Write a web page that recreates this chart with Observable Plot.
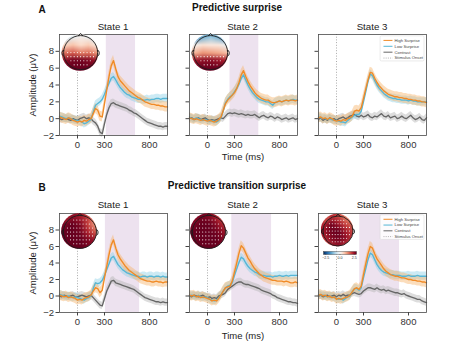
<!DOCTYPE html>
<html><head><meta charset="utf-8">
<script src="https://cdn.jsdelivr.net/npm/d3@7"></script>
<script src="https://cdn.jsdelivr.net/npm/@observablehq/plot@0.6"></script>
<style>
body{margin:0;background:#fff;font-family:"Liberation Sans",Arial,sans-serif;}
#fig{position:relative;width:474px;height:355px;overflow:hidden;background:#fff;}
.t{position:absolute;white-space:nowrap;color:#222;line-height:1;transform:translate(-50%,-50%);}
.w{position:absolute;}
</style></head><body><div id="fig"></div>
<script>
// ---------- data ----------
const time = [-200,-175,-150,-125,-100,-75,-50,-25,0,25,50,75,100,125,150,175,200,225,250,275,300,325,350,375,400,425,450,475,500,525,550,575,600,625,650,675,700,725,750,775,800,825,850,875,900,925,950,975,1000];
const rowTitles = ["Predictive surprise", "Predictive transition surprise"];
const rowLetters = ["A", "B"];
const states = ["State 1", "State 2", "State 3"];
const legendLabels = ["High Surprise", "Low Surprise", "Contrast", "Stimulus Onset"];
const xTicks = [0, 300, 800];
const yTicks = [-2, 0, 2, 4, 6, 8];
const xLabel = "Time (ms)";
const yLabel = "Amplitude (μV)";

const a1High = [0.2,0.1,0.0,-0.1,0.1,0.0,-0.2,-0.3,-0.4,-0.3,-0.4,-0.2,-0.3,-0.1,0.0,0.6,1.2,1.0,0.3,0.2,1.8,3.4,5.0,6.3,6.9,5.9,5.0,4.5,4.2,3.9,3.6,3.3,3.1,2.9,2.7,2.5,2.4,2.2,2.0,1.9,1.8,1.7,1.7,1.6,1.6,1.5,1.5,1.4,1.4];
const a1Low  = [0.3,0.2,0.1,0.0,0.1,0.0,-0.1,-0.2,-0.2,-0.3,-0.4,-0.6,-0.5,-0.3,-0.1,0.8,1.6,1.8,2.0,2.3,2.9,3.6,4.2,4.8,5.0,4.6,4.1,3.7,3.4,3.1,2.9,2.8,2.6,2.5,2.4,2.3,2.3,2.2,2.2,2.3,2.2,2.3,2.3,2.4,2.4,2.3,2.4,2.4,2.4];
const a1Con  = [0.0,-0.1,0.0,0.0,-0.1,-0.2,0.0,-0.1,-0.2,0.0,0.1,0.2,0.0,0.1,0.0,-0.3,-0.5,-0.9,-1.6,-1.8,-0.6,0.5,1.3,1.8,1.9,1.7,1.6,1.5,1.4,1.3,1.2,1.0,0.9,0.7,0.6,0.4,0.2,0.0,-0.2,-0.4,-0.5,-0.6,-0.7,-0.8,-0.9,-0.9,-1.0,-0.9,-0.9];
const a2High = [0.1,0.0,-0.1,0.0,-0.1,-0.2,-0.1,-0.2,-0.3,-0.2,-0.3,-0.4,-0.3,-0.1,0.2,1.0,1.8,2.2,2.5,2.8,3.1,3.6,4.3,5.2,5.7,5.0,4.4,3.9,3.5,3.1,2.8,2.6,2.4,2.3,2.2,2.2,2.0,1.9,1.9,2.0,2.1,2.0,2.1,2.2,2.1,2.2,2.2,2.1,2.2];
const a2Low  = [0.2,0.0,-0.1,0.1,0.0,-0.1,-0.2,-0.1,-0.2,-0.3,-0.2,-0.3,-0.4,-0.2,0.1,0.9,1.9,2.3,2.6,2.8,3.2,3.6,4.1,4.8,5.2,4.6,4.0,3.5,3.1,2.8,2.5,2.3,2.2,2.1,2.0,2.0,1.8,1.6,1.9,2.0,2.1,2.0,2.1,2.2,2.1,2.2,2.3,2.2,2.2];
const a2Con  = [0.0,0.1,-0.1,0.0,0.1,-0.1,0.0,0.1,-0.1,-0.2,-0.1,-0.2,-0.1,0.0,0.1,0.0,0.3,0.6,0.7,0.6,0.7,0.6,0.5,0.6,0.5,0.4,0.5,0.4,0.4,0.5,0.3,0.1,0.3,0.4,0.2,0.1,0.3,0.2,0.0,0.2,0.1,-0.1,0.0,0.1,-0.1,0.0,0.1,-0.1,0.0];
const a3High = [0.1,0.2,0.0,0.1,-0.1,0.1,0.0,-0.2,-0.3,-0.2,-0.3,-0.1,-0.2,0.0,0.1,0.3,0.9,1.0,0.9,1.3,2.4,3.5,4.6,5.5,5.4,4.8,4.3,3.9,3.6,3.3,3.1,2.9,2.8,2.7,2.6,2.6,2.5,2.5,2.4,2.4,2.3,2.3,2.2,2.2,2.1,2.1,2.0,2.0,1.9];
const a3Low  = [0.2,0.1,0.0,0.0,-0.1,0.0,-0.1,-0.2,-0.2,-0.3,-0.4,-0.4,-0.5,-0.2,0.0,0.2,0.4,0.5,0.5,0.9,2.0,3.2,4.4,5.3,5.1,4.5,4.0,3.6,3.3,3.0,2.8,2.6,2.5,2.4,2.4,2.3,2.3,2.2,2.2,2.2,2.1,2.2,2.1,2.1,2.0,2.0,2.0,2.0,2.0];
const a3Con  = [-0.1,0.1,-0.2,0.0,-0.2,0.1,-0.1,0.0,-0.2,0.0,0.1,0.2,0.0,0.1,0.3,0.4,0.5,0.3,0.2,0.4,0.2,0.3,0.5,0.2,0.1,0.3,0.2,0.4,0.6,0.3,0.2,0.4,0.1,0.2,0.3,0.0,0.1,0.3,0.1,0.0,0.2,0.4,0.1,-0.1,0.0,0.2,-0.1,-0.2,0.1];
const b1High = [0.1,0.0,-0.1,0.0,-0.2,-0.1,-0.2,-0.3,-0.5,-0.4,-0.5,-0.3,-0.2,-0.1,0.1,0.6,1.0,0.9,0.4,0.7,2.2,3.6,5.0,6.2,6.8,5.8,5.0,4.5,4.1,3.7,3.4,3.1,2.9,2.7,2.5,2.3,2.1,2.0,1.9,1.8,1.8,1.7,1.7,1.8,1.7,1.7,1.6,1.7,1.7];
const b1Low  = [0.2,0.1,0.0,-0.1,0.0,-0.1,-0.2,-0.1,-0.2,-0.3,-0.4,-0.5,-0.3,-0.2,0.0,0.9,1.6,1.5,1.6,1.9,2.5,3.2,3.9,4.6,4.8,4.3,3.8,3.5,3.2,3.0,2.8,2.7,2.6,2.5,2.4,2.4,2.3,2.4,2.4,2.3,2.4,2.4,2.3,2.4,2.4,2.3,2.4,2.3,2.3];
const b1Con  = [0.0,-0.1,0.1,0.0,-0.1,0.0,0.1,-0.1,-0.1,0.0,0.1,0.0,-0.1,0.0,0.1,-0.2,-0.5,-0.8,-1.1,-1.2,-0.3,0.6,1.2,1.8,1.9,1.6,1.5,1.4,1.3,1.2,1.1,1.0,0.9,0.8,0.6,0.4,0.2,0.0,-0.2,-0.3,-0.4,-0.5,-0.6,-0.7,-0.7,-0.8,-0.7,-0.8,-0.8];
const b2High = [0.1,0.0,0.1,-0.1,0.0,-0.2,-0.1,-0.2,-0.3,-0.4,-0.6,-0.5,-0.6,-0.3,0.1,0.6,1.0,1.1,1.2,1.8,2.9,4.0,5.2,6.1,5.8,5.2,4.6,4.2,3.7,3.3,3.0,2.7,2.5,2.3,2.2,2.1,2.0,1.9,1.9,1.8,1.8,1.8,1.7,1.8,1.7,1.6,1.6,1.7,1.6];
const b2Low  = [0.0,0.1,0.0,-0.1,0.1,-0.1,-0.2,-0.1,-0.2,-0.4,-0.5,-0.6,-0.5,-0.2,0.1,0.6,1.0,1.2,1.3,1.6,2.5,3.3,4.1,4.7,4.5,4.0,3.6,3.3,3.1,2.9,2.8,2.6,2.5,2.5,2.4,2.4,2.4,2.3,2.4,2.4,2.5,2.4,2.4,2.5,2.4,2.5,2.5,2.5,2.5];
const b2Con  = [0.0,-0.1,0.1,0.0,-0.1,0.0,0.1,-0.1,-0.2,-0.1,-0.3,-0.2,-0.3,0.0,0.1,0.2,0.4,0.8,1.0,1.2,1.4,1.6,1.7,1.7,1.5,1.4,1.4,1.3,1.2,1.1,1.0,0.9,0.7,0.6,0.5,0.4,0.3,0.1,0.0,-0.2,-0.3,-0.4,-0.5,-0.6,-0.7,-0.7,-0.8,-0.8,-0.9];
const b3High = [0.1,0.2,0.0,0.1,-0.1,0.0,-0.2,-0.1,-0.4,-0.3,-0.4,-0.3,-0.2,-0.1,0.1,0.5,0.9,1.0,0.8,1.2,2.6,3.9,5.1,6.0,5.8,5.1,4.5,4.1,3.7,3.3,3.0,2.8,2.6,2.5,2.4,2.4,2.3,2.2,2.2,2.1,2.0,2.0,1.9,1.9,1.8,1.8,1.7,1.7,1.6];
const b3Low  = [0.2,0.1,0.1,0.0,-0.1,0.0,-0.1,-0.2,-0.3,-0.4,-0.3,-0.5,-0.3,-0.1,0.0,0.5,0.9,0.9,0.7,1.0,2.2,3.3,4.4,5.2,5.0,4.4,3.8,3.4,3.1,2.9,2.8,2.7,2.6,2.6,2.5,2.5,2.5,2.4,2.4,2.4,2.5,2.4,2.4,2.4,2.5,2.4,2.4,2.4,2.4];
const b3Con  = [0.0,0.1,-0.1,0.0,0.1,-0.1,0.0,0.1,-0.1,0.1,0.0,0.2,0.0,0.1,0.1,0.3,0.4,0.3,0.2,0.3,0.6,0.8,1.0,1.0,0.9,0.8,1.0,0.8,0.7,0.8,0.6,0.7,0.6,0.5,0.4,0.4,0.3,0.2,0.3,0.1,0.0,-0.1,-0.2,-0.3,-0.4,-0.4,-0.6,-0.7,-0.8];

// confidence half-widths: high, low, contrast
const ciHalf = [0.6, 0.5, 0.45];
// significant windows (ms)
const shadeA = [[320, 645], [250, 570], null];
const shadeB = [[310, 690], [270, 712], [258, 700]];

// topographic maps (5x5, front row first)
const topoA1 = [-0.8,-0.2,0.1,-0.1,-0.6, 0.6,0.8,0.5,0.7,0.3, 1.6,1.8,1.5,1.6,1.3, 2.6,2.8,2.8,2.7,2.5, 2.9,2.9,2.9,2.9,2.9];
const topoA2 = [-2.0,-1.4,-1.1,-1.4,-2.0, 0.1,0.4,0.3,0.3,-0.2, 1.0,1.3,1.2,1.1,0.9, 2.4,2.6,2.6,2.5,2.3, 2.9,2.9,2.9,2.9,2.9];
const topoB1 = [2.3,2.6,2.4,2.0,1.4, 2.8,2.9,2.7,2.0,1.2, 2.9,2.9,2.8,2.3,1.8, 2.9,2.9,2.9,2.7,2.5, 2.8,2.9,2.9,2.8,2.6];
const topoB2 = [2.6,2.8,2.7,2.3,1.9, 2.8,2.9,2.9,2.6,2.2, 2.9,2.9,2.9,2.8,2.5, 2.9,2.9,2.9,2.9,2.7, 2.8,2.9,2.9,2.9,2.7];
const topoB3 = [1.6,2.2,2.0,1.5,1.2, 2.3,2.8,2.5,2.0,1.7, 2.5,2.8,2.9,2.4,2.0, 2.2,2.7,2.8,2.6,2.1, 1.8,2.3,2.6,2.2,1.7];
const colorLimit = 2.9;
const colorbarTicks = [-2.5, 0, 2.5];

// head drawing shapes
const nose = [[-0.13, 0.99], [0, 1.13], [0.13, 0.99]];
const earL = [[-0.99, 0.13], [-1.06, 0.11], [-1.1, 0.0], [-1.08, -0.14], [-1.0, -0.2]];
const earR = earL.map(([x, y]) => [-x, y]);
const electrodeRowsY = [0.72, 0.48, 0.24, 0, -0.24, -0.48, -0.72];

// ---------- styles ----------
const LINE = ["#f08a26", "#55b6d6", "#666666"];
const BAND = ["#f6b36a", "#8fd1e7", "#b3b3b3"];
const fig = document.getElementById("fig");
const FONT = '"Liberation Sans", Arial, sans-serif';

function addText(txt, x, y, css) {
  const d = document.createElement("div");
  d.className = "t";
  d.textContent = txt;
  d.style.left = x + "px"; d.style.top = y + "px";
  Object.assign(d.style, css || {});
  fig.appendChild(d);
}
function place(svg, left, top, w, clip) {
  const d = document.createElement("div");
  d.className = "w";
  d.style.left = left + "px"; d.style.top = top + "px"; d.style.width = w + "px";
  if (clip) d.style.clipPath = clip;
  d.appendChild(svg);
  fig.appendChild(d);
}

const panelX0 = [59, 188.5, 318];
const panelW = 108;
const rowTop = [34, 213];
const rowH = [101, 99];

function makePanel(r, c, series, shade) {
  const mL = 40, mR = 2, mT = 2, mB = 20;
  const rows = time.map((t, i) => ({t, v0: series[0][i], v1: series[1][i], v2: series[2][i]}));
  const marks = [];
  if (shade) marks.push(Plot.rect([shade], {x1: d => d[0], x2: d => d[1], y1: -2, y2: 10, fill: "#ede2ef"}));
  marks.push(Plot.ruleX([0], {stroke: "#a0a0a0", strokeWidth: 0.9, strokeDasharray: "1,1.7"}));
  for (const k of [2, 1, 0]) {
    marks.push(Plot.areaY(rows, {x: "t", y1: d => d["v" + k] - ciHalf[k], y2: d => d["v" + k] + ciHalf[k], fill: BAND[k], fillOpacity: 0.45}));
  }
  for (const k of [2, 1, 0]) {
    marks.push(Plot.line(rows, {x: "t", y: "v" + k, stroke: LINE[k], strokeWidth: 1.35}));
  }
  if (c === 2) {
    const leg = legendLabels.map((label, i) => ({label, i}));
    const ly = [9.3, 8.6, 7.9, 7.2];
    marks.push(Plot.rect([0], {x1: 490, x2: 978, y1: 6.8, y2: 9.78, fill: "white", fillOpacity: 0.85, stroke: "#d6d6d6", strokeWidth: 0.5, rx: 1.2}));
    marks.push(Plot.link(leg.slice(0, 3), {x1: 522, x2: 622, y1: d => ly[d.i], y2: d => ly[d.i], stroke: d => LINE[d.i], strokeWidth: 1}));
    marks.push(Plot.link(leg.slice(3), {x1: 522, x2: 622, y1: d => ly[d.i], y2: d => ly[d.i], stroke: "#a0a0a0", strokeWidth: 0.8, strokeDasharray: "1,1.2"}));
    marks.push(Plot.text(leg, {x: 645, y: d => ly[d.i], text: "label", textAnchor: "start", fontSize: 4.2, fill: "#444"}));
  }
  marks.push(Plot.frame({stroke: "#4a4a4a", strokeWidth: 0.8}));
  marks.push(Plot.axisY({ticks: yTicks, tickSize: 3.5, tickPadding: 2, label: null, stroke: "#444", fill: c === 0 ? "#333" : "none", tickFormat: d3.format("d")}));
  marks.push(Plot.axisX({ticks: xTicks, tickSize: 3.5, tickPadding: 2, label: null, stroke: "#444", fill: "#333", tickFormat: d3.format("d")}));
  const W = mL + panelW + mR, H = mT + rowH[r] + mB;
  const svg = Plot.plot({
    width: W, height: H, marginLeft: mL, marginRight: mR, marginTop: mT, marginBottom: mB,
    x: {domain: [-200, 1000]}, y: {domain: [-2, 10]},
    style: {background: "transparent", fontFamily: FONT, fontSize: "9.5px", overflow: "visible", color: "#333"},
    marks
  });
  place(svg, panelX0[c] - mL, rowTop[r] - mT, W);
}

function makeTopo(values, minY, cx, cy, R) {
  const S = 2.6 * R;
  const elec = [];
  for (const y of electrodeRowsY) {
    if (y > minY) continue;
    for (let x = -0.76; x <= 0.77; x += 0.19) if (x * x + y * y <= 0.83 * 0.83) elec.push({x, y});
  }
  const common = {
    width: S, height: S, margin: 0,
    x: {domain: [-1.3, 1.3], axis: null}, y: {domain: [-1.3, 1.3], axis: null},
    style: {background: "transparent", overflow: "visible"}
  };
  // colour field, clipped to a disc
  const field = Plot.plot({
    ...common,
    color: {type: "linear", scheme: "rdbu", reverse: true, domain: [-colorLimit, colorLimit]},
    marks: [Plot.raster(values, {width: 5, height: 5, x1: -1.15, x2: 1.15, y1: 1.15, y2: -1.15, imageRendering: "auto"})]
  });
  place(field, cx - S / 2, cy - S / 2, S, `circle(${(1.08 * R).toFixed(2)}px at ${S / 2}px ${S / 2}px)`);
  // head outline and electrodes
  const head = Plot.plot({
    ...common,
    marks: [
      Plot.dot(elec, {x: "x", y: "y", r: 0.55, fill: "white"}),
      Plot.dot([{x: 0, y: 0}], {x: "x", y: "y", r: R, stroke: "#1c1c1c", strokeWidth: 0.9, fill: "none"}),
      Plot.line(nose, {x: d => d[0], y: d => d[1], stroke: "#1c1c1c", strokeWidth: 0.9}),
      Plot.line(earL, {x: d => d[0], y: d => d[1], stroke: "#1c1c1c", strokeWidth: 0.9}),
      Plot.line(earR, {x: d => d[0], y: d => d[1], stroke: "#1c1c1c", strokeWidth: 0.9})
    ]
  });
  place(head, cx - S / 2, cy - S / 2, S);
}

function makeColorbar(left, top) {
  const mL = 6, mR = 6, mT = 1, mB = 8, w = 33, h = 3;
  const ramp = d3.range(-colorLimit, colorLimit + 0.001, 0.1);
  const svg = Plot.plot({
    width: mL + w + mR, height: mT + h + mB, marginLeft: mL, marginRight: mR, marginTop: mT, marginBottom: mB,
    x: {domain: [-colorLimit, colorLimit]}, y: {domain: [0, 1], axis: null},
    color: {type: "linear", scheme: "rdbu", reverse: true, domain: [-colorLimit, colorLimit]},
    style: {background: "transparent", overflow: "visible", fontFamily: FONT, fontSize: "3.6px", color: "#333"},
    marks: [
      Plot.raster(ramp, {width: ramp.length, height: 1, x1: -colorLimit, x2: colorLimit, y1: 1, y2: 0, imageRendering: "auto"}),
      Plot.frame({stroke: "#333", strokeWidth: 0.4}),
      Plot.axisX({ticks: colorbarTicks, tickFormat: d3.format(".1f"), tickSize: 1, tickPadding: 0.6, label: null, stroke: "#333", strokeWidth: 0.4})
    ]
  });
  place(svg, left - mL, top - mT, mL + w + mR);
}

// ---------- build ----------
const seriesA = [[a1High, a1Low, a1Con], [a2High, a2Low, a2Con], [a3High, a3Low, a3Con]];
const seriesB = [[b1High, b1Low, b1Con], [b2High, b2Low, b2Con], [b3High, b3Low, b3Con]];
for (let c = 0; c < 3; c++) makePanel(0, c, seriesA[c], shadeA[c]);
for (let c = 0; c < 3; c++) makePanel(1, c, seriesB[c], shadeB[c]);

makeTopo(topoA1, 0.01, 80, 52.5, 17);
makeTopo(topoA2, -0.2, 210, 52.5, 17);
makeTopo(topoB1, 1, 79, 231, 16.5);
makeTopo(topoB2, 1, 208, 231, 16.5);
makeTopo(topoB3, 1, 337, 230, 15);
makeColorbar(323, 250.5);

// ---------- text ----------
const titleY = [7.5, 185.5], stateY = [27, 205], timeY = [156.5, 335.5], ampY = [84.5, 262.5];
for (let r = 0; r < 2; r++) {
  addText(rowLetters[r], 42, titleY[r] + 2.5, {fontWeight: "bold", fontSize: "10px", color: "#111"});
  addText(rowTitles[r], 237, titleY[r], {fontWeight: "bold", fontSize: "10px", color: "#111"});
  for (let c = 0; c < 3; c++) addText(states[c], panelX0[c] + panelW / 2, stateY[r], {fontSize: "9.7px"});
  addText(xLabel, 243, timeY[r], {fontSize: "9.5px"});
  addText(yLabel, 33.3, ampY[r], {fontSize: "9.5px", transform: "translate(-50%,-50%) rotate(-90deg)"});
}
</script></body></html>
